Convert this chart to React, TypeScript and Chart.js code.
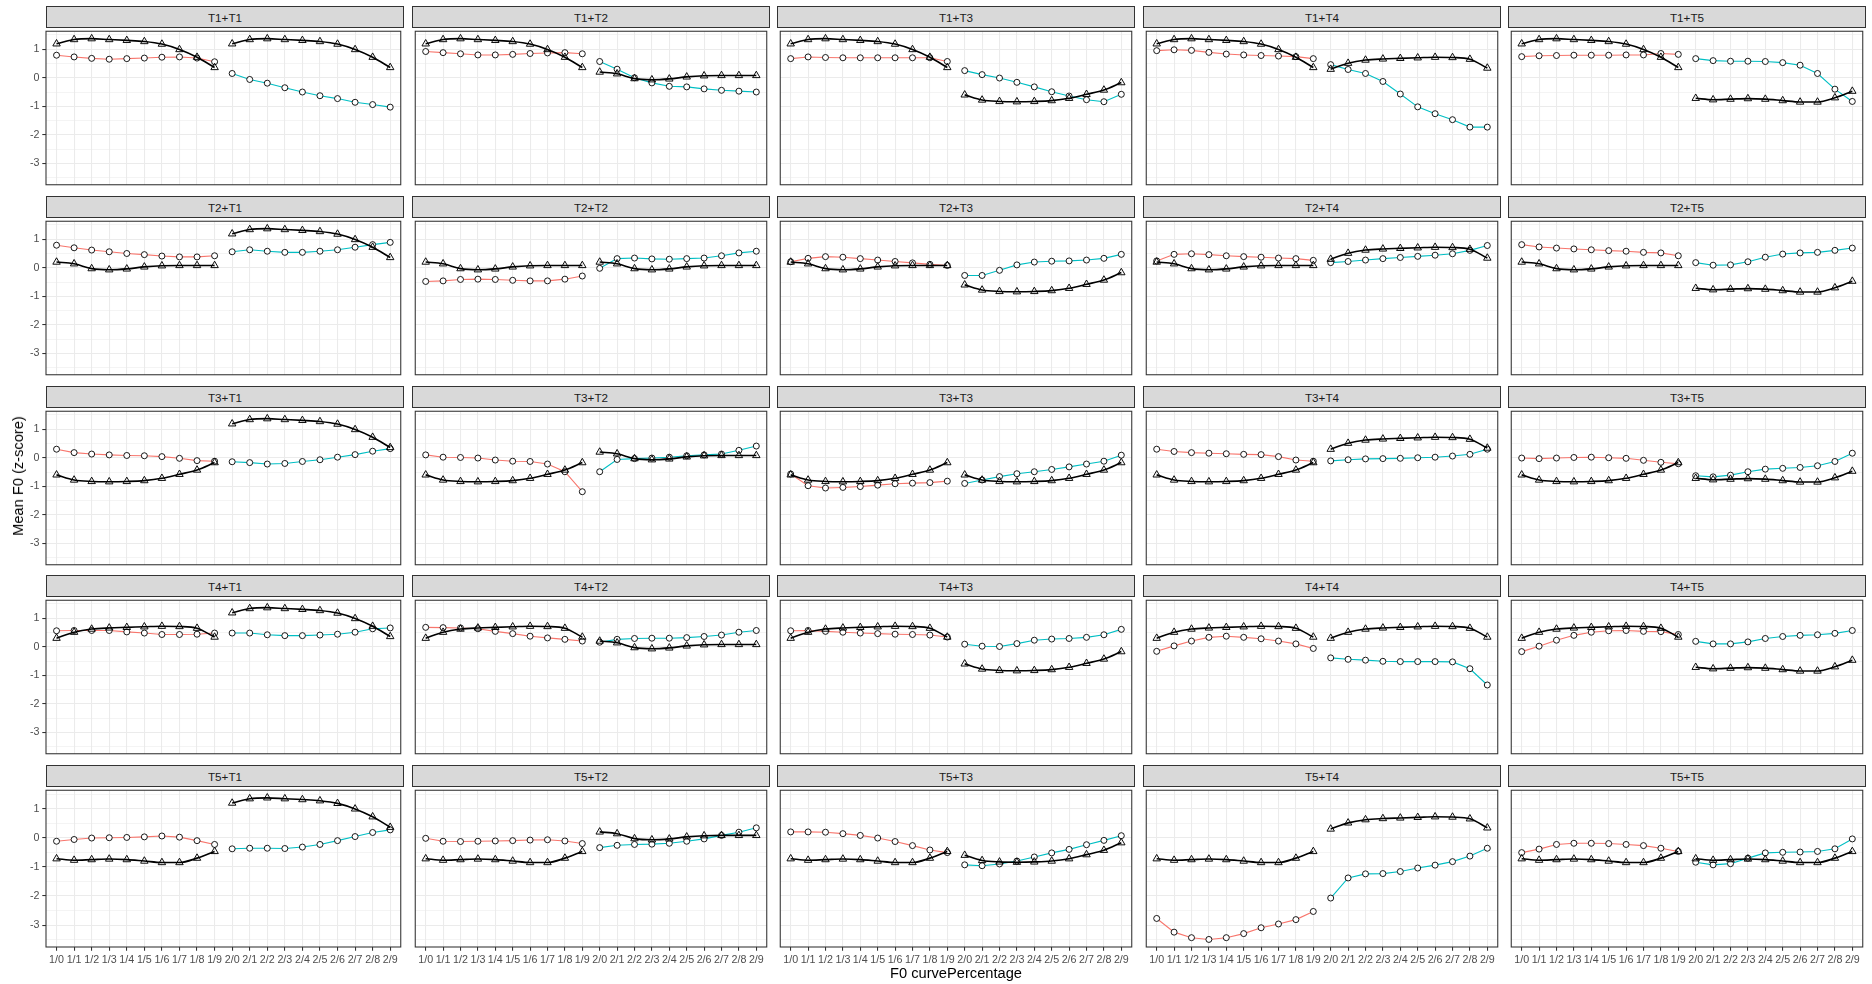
import React, { useEffect, useRef } from 'react';
import { Chart, registerables } from 'chart.js';

Chart.register(...registerables);

// ---------- data ----------
const categories = ['1/0', '1/1', '1/2', '1/3', '1/4', '1/5', '1/6', '1/7', '1/8', '1/9',
  '2/0', '2/1', '2/2', '2/3', '2/4', '2/5', '2/6', '2/7', '2/8', '2/9'];
const yTicks = [-3.5, -3, -2.5, -2, -1.5, -1, -0.5, 0, 0.5, 1, 1.5];
const tones = ['T1', 'T2', 'T3', 'T4', 'T5'];

// citation-tone reference contours (black, triangles)
const refT1 = [1.19, 1.34, 1.37, 1.34, 1.31, 1.27, 1.18, 0.99, 0.72, 0.36];
const refT2 = [0.2, 0.14, -0.03, -0.07, -0.04, 0.03, 0.07, 0.08, 0.08, 0.08];
const refT3 = [-0.6, -0.78, -0.83, -0.84, -0.83, -0.8, -0.72, -0.58, -0.43, -0.17];
const refT4 = [0.3, 0.51, 0.62, 0.66, 0.68, 0.7, 0.72, 0.71, 0.65, 0.34];
const refT5 = [-0.72, -0.77, -0.75, -0.73, -0.75, -0.8, -0.85, -0.85, -0.7, -0.47];

// first syllable (red) and second syllable (cyan) for each combination
const t1t1First = [0.79, 0.73, 0.68, 0.65, 0.67, 0.69, 0.72, 0.73, 0.69, 0.56];
const t1t1Second = [0.15, -0.06, -0.19, -0.35, -0.5, -0.63, -0.73, -0.86, -0.94, -1.03];
const t1t2First = [0.92, 0.88, 0.84, 0.8, 0.8, 0.82, 0.85, 0.87, 0.88, 0.84];
const t1t2Second = [0.57, 0.3, 0.0, -0.18, -0.3, -0.32, -0.39, -0.44, -0.47, -0.5];
const t1t3First = [0.67, 0.73, 0.71, 0.7, 0.7, 0.7, 0.7, 0.7, 0.7, 0.57];
const t1t3Second = [0.25, 0.11, -0.01, -0.16, -0.32, -0.49, -0.64, -0.77, -0.84, -0.58];
const t1t4First = [0.95, 0.98, 0.96, 0.89, 0.83, 0.8, 0.78, 0.76, 0.74, 0.67];
const t1t4Second = [0.46, 0.29, 0.15, -0.13, -0.57, -1.02, -1.26, -1.47, -1.73, -1.73];
const t1t5First = [0.74, 0.77, 0.78, 0.79, 0.79, 0.79, 0.8, 0.8, 0.85, 0.82];
const t1t5Second = [0.67, 0.6, 0.58, 0.58, 0.57, 0.53, 0.44, 0.15, -0.4, -0.83];

const t2t1First = [0.79, 0.7, 0.62, 0.56, 0.5, 0.46, 0.41, 0.38, 0.38, 0.42];
const t2t1Second = [0.56, 0.63, 0.58, 0.54, 0.54, 0.58, 0.63, 0.72, 0.81, 0.89];
const t2t2First = [-0.48, -0.46, -0.41, -0.4, -0.41, -0.44, -0.46, -0.46, -0.4, -0.29];
const t2t2Second = [-0.02, 0.32, 0.34, 0.31, 0.3, 0.32, 0.34, 0.42, 0.52, 0.58];
const t2t3First = [0.21, 0.33, 0.39, 0.37, 0.32, 0.27, 0.22, 0.17, 0.12, 0.08];
const t2t3Second = [-0.27, -0.27, -0.09, 0.1, 0.2, 0.23, 0.24, 0.27, 0.33, 0.47];
const t2t4First = [0.24, 0.47, 0.49, 0.46, 0.42, 0.39, 0.37, 0.34, 0.32, 0.26];
const t2t4Second = [0.18, 0.22, 0.27, 0.32, 0.36, 0.4, 0.44, 0.49, 0.61, 0.78];
const t2t5First = [0.81, 0.73, 0.69, 0.66, 0.63, 0.6, 0.58, 0.54, 0.52, 0.42];
const t2t5Second = [0.18, 0.09, 0.1, 0.21, 0.37, 0.48, 0.52, 0.54, 0.61, 0.69];

const t3t1First = [0.3, 0.18, 0.13, 0.1, 0.08, 0.07, 0.04, -0.02, -0.1, -0.12];
const t3t1Second = [-0.14, -0.17, -0.22, -0.2, -0.13, -0.07, 0.02, 0.11, 0.23, 0.32];
const t3t2First = [0.1, 0.02, 0.01, -0.01, -0.08, -0.12, -0.13, -0.22, -0.49, -1.19];
const t3t2Second = [-0.49, -0.06, -0.03, -0.01, 0.02, 0.07, 0.1, 0.13, 0.26, 0.41];
const t3t3First = [-0.57, -0.98, -1.06, -1.04, -1.01, -0.96, -0.91, -0.89, -0.87, -0.82];
const t3t3Second = [-0.9, -0.78, -0.66, -0.56, -0.49, -0.41, -0.32, -0.22, -0.12, 0.09];
const t3t4First = [0.3, 0.22, 0.18, 0.16, 0.14, 0.12, 0.11, 0.04, -0.08, -0.12];
const t3t4Second = [-0.11, -0.07, -0.04, -0.03, -0.02, 0.0, 0.02, 0.06, 0.12, 0.3];
const t3t5First = [-0.01, -0.03, -0.01, 0.01, 0.02, 0.0, -0.02, -0.09, -0.16, -0.21];
const t3t5Second = [-0.63, -0.67, -0.61, -0.49, -0.4, -0.37, -0.34, -0.28, -0.13, 0.16];

const t4t1First = [0.56, 0.57, 0.57, 0.57, 0.52, 0.48, 0.43, 0.43, 0.44, 0.48];
const t4t1Second = [0.48, 0.48, 0.42, 0.39, 0.39, 0.41, 0.44, 0.51, 0.63, 0.66];
const t4t2First = [0.68, 0.67, 0.66, 0.63, 0.54, 0.46, 0.37, 0.31, 0.26, 0.2];
const t4t2Second = [0.16, 0.26, 0.29, 0.3, 0.3, 0.32, 0.36, 0.41, 0.51, 0.57];
const t4t3First = [0.56, 0.57, 0.54, 0.51, 0.48, 0.46, 0.44, 0.43, 0.41, 0.34];
const t4t3Second = [0.09, 0.02, 0.01, 0.11, 0.23, 0.27, 0.29, 0.33, 0.42, 0.61];
const t4t4First = [-0.16, 0.03, 0.2, 0.33, 0.37, 0.33, 0.28, 0.2, 0.1, -0.06];
const t4t4Second = [-0.39, -0.44, -0.47, -0.51, -0.52, -0.52, -0.52, -0.53, -0.77, -1.34];
const t4t5First = [-0.17, 0.02, 0.23, 0.4, 0.51, 0.56, 0.57, 0.54, 0.53, 0.43];
const t4t5Second = [0.19, 0.1, 0.1, 0.17, 0.29, 0.36, 0.4, 0.42, 0.47, 0.57];

const t5t1First = [-0.12, -0.06, -0.01, 0.0, 0.01, 0.03, 0.06, 0.02, -0.1, -0.23];
const t5t1Second = [-0.38, -0.36, -0.36, -0.37, -0.32, -0.23, -0.1, 0.04, 0.18, 0.27];
const t5t2First = [-0.02, -0.12, -0.13, -0.12, -0.11, -0.1, -0.08, -0.07, -0.11, -0.2];
const t5t2Second = [-0.34, -0.26, -0.23, -0.22, -0.19, -0.12, -0.04, 0.08, 0.19, 0.34];
const t5t3First = [0.2, 0.2, 0.19, 0.14, 0.08, -0.01, -0.13, -0.27, -0.42, -0.51];
const t5t3Second = [-0.93, -0.96, -0.9, -0.8, -0.66, -0.52, -0.4, -0.24, -0.09, 0.07];
const t5t4First = [-2.77, -3.24, -3.43, -3.49, -3.43, -3.29, -3.09, -2.96, -2.81, -2.53];
const t5t4Second = [-2.07, -1.38, -1.24, -1.23, -1.16, -1.04, -0.94, -0.82, -0.63, -0.36];
const t5t5First = [-0.51, -0.39, -0.23, -0.19, -0.19, -0.2, -0.23, -0.27, -0.36, -0.47];
const t5t5Second = [-0.84, -0.93, -0.89, -0.7, -0.52, -0.5, -0.49, -0.47, -0.38, -0.04];

const refs = [refT1, refT2, refT3, refT4, refT5];
const firstRows = [
  [t1t1First, t1t2First, t1t3First, t1t4First, t1t5First],
  [t2t1First, t2t2First, t2t3First, t2t4First, t2t5First],
  [t3t1First, t3t2First, t3t3First, t3t4First, t3t5First],
  [t4t1First, t4t2First, t4t3First, t4t4First, t4t5First],
  [t5t1First, t5t2First, t5t3First, t5t4First, t5t5First],
];
const secondRows = [
  [t1t1Second, t1t2Second, t1t3Second, t1t4Second, t1t5Second],
  [t2t1Second, t2t2Second, t2t3Second, t2t4Second, t2t5Second],
  [t3t1Second, t3t2Second, t3t3Second, t3t4Second, t3t5Second],
  [t4t1Second, t4t2Second, t4t3Second, t4t4Second, t4t5Second],
  [t5t1Second, t5t2Second, t5t3Second, t5t4Second, t5t5Second],
];

// ---------- layout / style ----------
const FONT = "'Liberation Sans', Arial, Helvetica, sans-serif";
const RED = '#F8766D';
const CYAN = '#00BFC4';
const PLOT_LEFTS = [46, 412, 777, 1143, 1508];
const PLOT_W = 358;
const STRIP_TOPS = [6, 196, 386, 575, 765];
const STRIP_H = 22;
const PLOT_H = 160;
const AXIS_W = 46;
const AXIS_H = 32;
const PAD = 2;
const Y_MIN = -3.75;
const Y_MAX = 1.63;
const TICK_FONT_SIZE = 10.7;

Chart.defaults.font.family = FONT;

const panelBorder = {
  id: 'panelBorder',
  afterDraw(chart: any) {
    const { ctx, chartArea: a } = chart;
    ctx.save();
    ctx.strokeStyle = '#333333';
    ctx.lineWidth = 1.07;
    ctx.strokeRect(a.left, a.top, a.right - a.left, a.bottom - a.top);
    ctx.restore();
  },
};

const toPts = (vals: number[], offset: number) => vals.map((v, i) => ({ x: i + offset, y: v }));

const blackSet = (vals: number[], offset: number) => ({
  data: toPts(vals, offset),
  borderColor: '#000000',
  borderWidth: 1.6,
  cubicInterpolationMode: 'monotone',
  pointStyle: 'triangle',
  pointRadius: 4.3,
  pointBorderWidth: 0.95,
  pointBorderColor: '#000000',
  pointBackgroundColor: 'rgba(0,0,0,0)',
  fill: false,
  order: 1,
});

const colorSet = (vals: number[], offset: number, color: string) => ({
  data: toPts(vals, offset),
  borderColor: color,
  borderWidth: 1.1,
  tension: 0,
  pointStyle: 'circle',
  pointRadius: 3,
  pointBorderWidth: 0.9,
  pointBorderColor: '#000000',
  pointBackgroundColor: '#FFFFFF',
  fill: false,
  order: 2,
});

function Panel({ row, col }: { row: number; col: number }) {
  const ref = useRef<HTMLCanvasElement>(null);
  const showY = col === 0;
  const showX = row === 4;
  const axisW = showY ? AXIS_W : 0;
  const axisH = showX ? AXIS_H : 0;
  const cw = PLOT_W + axisW + 2 * PAD;
  const ch = PLOT_H + axisH + 2 * PAD;
  const plotTop = STRIP_TOPS[row] + STRIP_H;

  useEffect(() => {
    if (!ref.current) return;
    const chart = new Chart(ref.current, {
      type: 'line',
      data: {
        datasets: [
          blackSet(refs[row], 0),
          blackSet(refs[col], 10),
          colorSet(firstRows[row][col], 0, RED),
          colorSet(secondRows[row][col], 10, CYAN),
        ] as any,
      },
      options: {
        animation: false,
        responsive: false,
        maintainAspectRatio: false,
        devicePixelRatio: 1,
        layout: { padding: PAD },
        plugins: { legend: { display: false }, tooltip: { enabled: false } },
        events: [],
        scales: {
          x: {
            type: 'linear',
            min: -0.6,
            max: 19.6,
            bounds: 'data',
            afterBuildTicks: (s: any) => {
              s.ticks = categories.map((_, i) => ({ value: i }));
            },
            afterFit: (s: any) => {
              s.height = axisH;
              s.paddingLeft = 0;
              s.paddingRight = 0;
              s.paddingTop = 0;
              s.paddingBottom = 0;
            },
            grid: {
              color: '#EBEBEB',
              lineWidth: 1.07,
              drawTicks: showX,
              tickLength: 3.7,
              tickColor: '#333333',
              tickWidth: 1.07,
            },
            border: { display: false },
            ticks: {
              display: showX,
              autoSkip: false,
              maxRotation: 0,
              minRotation: 0,
              padding: 2.6,
              color: '#4D4D4D',
              font: { size: TICK_FONT_SIZE, family: FONT },
              callback: (v: any) => categories[v as number] ?? '',
            },
          },
          y: {
            type: 'linear',
            min: Y_MIN,
            max: Y_MAX,
            bounds: 'data',
            afterBuildTicks: (s: any) => {
              s.ticks = yTicks.map((v) => ({ value: v }));
            },
            afterFit: (s: any) => {
              s.width = axisW;
              s.paddingLeft = 0;
              s.paddingRight = 0;
              s.paddingTop = 0;
              s.paddingBottom = 0;
            },
            grid: {
              color: '#EBEBEB',
              lineWidth: (c: any) => (Number.isInteger(c.tick?.value) ? 1.07 : 0.53),
              drawTicks: showY,
              tickLength: 3.7,
              tickColor: (c: any) => (Number.isInteger(c.tick?.value) ? '#333333' : 'rgba(0,0,0,0)'),
              tickWidth: 1.07,
            },
            border: { display: false },
            ticks: {
              display: showY,
              autoSkip: false,
              padding: 2.9,
              color: '#4D4D4D',
              font: { size: TICK_FONT_SIZE, family: FONT },
              callback: (v: any) => (Number.isInteger(v) ? String(v) : ''),
            },
          },
        },
      } as any,
      plugins: [panelBorder],
    });
    return () => chart.destroy();
  }, [row, col]);

  return (
    <>
      <div
        style={{
          position: 'absolute',
          left: PLOT_LEFTS[col],
          top: STRIP_TOPS[row],
          width: PLOT_W,
          height: STRIP_H,
          boxSizing: 'border-box',
          border: '1px solid #333333',
          background: '#D9D9D9',
          display: 'flex',
          alignItems: 'center',
          justifyContent: 'center',
          fontFamily: FONT,
          fontSize: 11.7,
          color: '#1A1A1A',
        }}
      >
        {`${tones[row]}+${tones[col]}`}
      </div>
      <canvas
        ref={ref}
        width={cw}
        height={ch}
        style={{
          position: 'absolute',
          left: PLOT_LEFTS[col] - axisW - PAD,
          top: plotTop - PAD,
          width: cw,
          height: ch,
        }}
      />
    </>
  );
}

export default function App() {
  const cells: React.ReactNode[] = [];
  for (let r = 0; r < 5; r++) {
    for (let c = 0; c < 5; c++) {
      cells.push(<Panel key={`${r}-${c}`} row={r} col={c} />);
    }
  }
  return (
    <div
      style={{
        position: 'absolute',
        left: 0,
        top: 0,
        width: 1872,
        height: 984,
        background: '#FFFFFF',
        overflow: 'hidden',
      }}
    >
      {cells}
      <div
        style={{
          position: 'absolute',
          left: 18,
          top: 476,
          transform: 'translate(-50%, -50%) rotate(-90deg)',
          whiteSpace: 'nowrap',
          fontFamily: FONT,
          fontSize: 14.67,
          color: '#000000',
        }}
      >
        Mean F0 (z-score)
      </div>
      <div
        style={{
          position: 'absolute',
          left: 956,
          top: 973,
          transform: 'translate(-50%, -50%)',
          whiteSpace: 'nowrap',
          fontFamily: FONT,
          fontSize: 14.67,
          color: '#000000',
        }}
      >
        F0 curvePercentage
      </div>
    </div>
  );
}
